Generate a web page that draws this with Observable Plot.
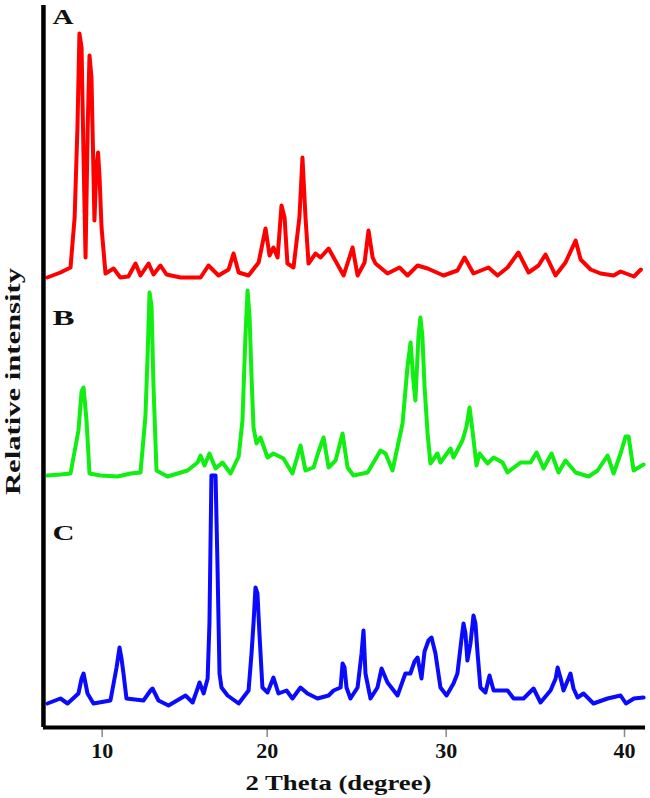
<!DOCTYPE html>
<html>
<head>
<meta charset="utf-8">
<script src="https://cdn.jsdelivr.net/npm/d3@7"></script>
<script src="https://cdn.jsdelivr.net/npm/@observablehq/plot@0.6"></script>
<style>
  html, body { margin: 0; padding: 0; background: #fff; }
  #chart svg { display: block; }
</style>
</head>
<body>
<div id="chart"></div>
<script>
// ---- data (2θ in degrees, intensity in arbitrary units above each pattern's baseline) ----
const seriesNames = ["A", "B", "C"];
const seriesColors = ["#ff0000", "#11ee11", "#0a0aff"];
const xTicks = [10, 20, 30, 40];

const aTheta = [6.67,7.47,8.08,8.33,8.50,8.62,8.75,8.87,8.99,9.12,9.23,9.35,9.53,9.65,9.75,9.84,9.96,10.20,10.69,11.10,11.59,12.02,12.32,12.81,13.11,13.53,13.90,14.75,15.96,16.44,17.05,17.66,17.96,18.27,18.87,19.48,19.90,20.13,20.35,20.58,20.80,20.97,21.13,21.47,21.80,21.97,22.14,22.31,22.70,22.98,23.43,24.27,24.77,25.05,25.44,25.66,25.89,26.05,26.72,27.39,27.84,28.40,28.96,29.85,30.63,31.03,31.53,32.37,32.88,33.44,34.05,34.62,35.18,35.57,36.13,36.69,37.26,37.54,38.10,38.66,39.39,39.78,40.08,40.53,40.92];
const aInt   = [0,5,10,60,150,244,230,120,20,150,222,200,57,110,125,100,50,4,9,0,1,14,2,14,3,12,3,0,0,12,2,8,24,5,2,15,49,22,30,20,72,60,14,10,60,120,60,14,24,20,29,2,30,2,15,47,20,14,4,10,2,12,9,2,7,20,4,10,2,10,25,5,12,23,2,15,37,18,8,4,2,6,4,1,8];

const bTheta = [6.68,7.47,8.08,8.56,8.75,8.87,9.05,9.23,9.90,10.93,11.72,12.32,12.62,12.75,12.87,12.99,13.11,13.29,13.96,15.17,15.78,15.96,16.20,16.50,16.87,17.29,17.78,18.27,18.50,18.68,18.81,18.93,19.05,19.17,19.35,19.59,20.02,20.35,20.91,21.41,21.86,22.14,22.59,22.87,23.15,23.43,23.82,24.21,24.49,24.82,25.61,26.33,26.61,27.00,27.56,27.84,28.01,28.17,28.28,28.45,28.56,28.67,28.79,28.96,29.12,29.51,29.68,30.24,30.41,30.91,31.14,31.31,31.48,31.70,31.87,32.32,32.66,33.16,33.44,34.17,34.73,35.07,35.46,35.91,36.30,36.69,37.26,37.99,38.49,39.05,39.39,39.78,40.06,40.23,40.51,41.07];
const bInt   = [1,2,3,46,85,89,56,3,1,0,3,4,60,120,184,170,90,6,0,6,14,21,11,23,8,14,3,20,56,140,186,160,100,49,33,39,19,23,18,3,31,6,9,25,39,9,16,43,9,1,4,26,23,6,53,110,134,95,76,140,159,140,90,43,13,23,14,28,19,36,50,69,45,11,23,13,19,14,4,14,14,24,8,23,4,16,4,0,6,21,3,23,40,40,6,12];

const cTheta = [6.68,7.47,7.90,8.56,8.75,8.87,8.99,9.11,9.47,10.50,10.87,11.05,11.17,11.29,11.47,12.50,12.93,13.05,13.41,14.02,15.05,15.48,15.78,15.90,16.15,16.39,16.50,16.62,16.74,16.87,16.99,17.11,17.23,17.60,18.27,18.87,19.05,19.17,19.29,19.41,19.53,19.71,20.02,20.35,20.63,21.08,21.41,21.86,22.25,22.81,23.43,23.71,24.10,24.21,24.32,24.43,24.65,25.05,25.27,25.38,25.49,25.77,26.16,26.39,26.72,27.28,27.72,28.00,28.23,28.40,28.62,28.79,29.01,29.18,29.40,29.68,30.02,30.41,30.63,30.86,30.97,31.08,31.19,31.36,31.53,31.64,31.76,31.92,32.20,32.43,32.66,33.44,33.78,34.34,34.90,35.29,35.85,36.14,36.25,36.42,36.58,36.86,36.97,37.14,37.37,37.70,38.26,39.05,39.78,40.08,40.53,41.07];
const cInt   = [0,5,0,10,25,30,20,10,0,3,36,56,45,30,5,3,13,15,3,-2,8,1,15,21,10,25,80,228,228,228,136,30,16,8,0,13,50,80,116,110,70,16,11,26,10,13,5,16,10,5,8,13,16,40,36,16,5,16,50,73,30,5,16,35,21,8,30,30,42,46,25,52,63,66,50,16,8,20,30,65,80,70,43,60,88,80,50,16,11,28,13,13,5,5,15,1,13,25,36,25,13,25,30,15,6,10,0,5,8,0,5,6];

// ---- layout (vertical stacking offsets, not data) ----
const offsets = [450, 251, 24];

const thetas = [aTheta, bTheta, cTheta];
const ints = [aInt, bInt, cInt];
const rows = [];
seriesNames.forEach((name, k) => {
  thetas[k].forEach((t, i) => rows.push({series: name, theta: t, y: ints[k][i] + offsets[k]}));
});

const serif = "'Liberation Serif', 'Times New Roman', serif";

const chart = Plot.plot({
  width: 650,
  height: 798,
  marginLeft: 43,
  marginRight: 5,
  marginTop: 5,
  marginBottom: 71,
  style: {fontFamily: serif, background: "#fff", color: "#111"},
  x: {type: "linear", domain: [10, 20, 30, 40], range: [101.7, 266.7, 445.7, 624], axis: null},
  y: {type: "linear", domain: [0, 722], range: [727, 5], axis: null},
  marks: [
    Plot.axisX({ticks: xTicks, tickSize: 10, tickPadding: 5, stroke: "#888", strokeWidth: 1.5,
                fill: "#111", fontSize: 22, fontWeight: "bold", label: null, tickFormat: d => String(d)}),
    ...seriesNames.map((name, k) =>
      Plot.line(rows.filter(r => r.series === name), {x: "theta", y: "y", stroke: seriesColors[k], strokeWidth: 4, strokeLinejoin: "round", strokeLinecap: "round"})
    ),
    // axes lines
    Plot.ruleY([0], {x1: 6.44, x2: 41.18, stroke: "#000", strokeWidth: 4}),
    Plot.ruleX([6.44], {y1: 0, y2: 722, stroke: "#000", strokeWidth: 4.5}),
    // pattern labels
    Plot.text(seriesNames, {x: 6.99, y: (d, i) => offsets[i] + [254, 152, 164][i], text: d => d,
      textAnchor: "start", lineAnchor: "bottom", fontSize: 20, fontWeight: "bold", fill: "#111"}),
    // axis titles
    Plot.text(["2 Theta (degree)"], {x: 23.98, y: -62, text: d => d, textAnchor: "middle", lineAnchor: "bottom",
      fontSize: 21, fontWeight: "bold", fill: "#111"}),
    Plot.text(["Relative intensity"], {x: 4.62, y: 346, text: d => d, rotate: -90, textAnchor: "middle", lineAnchor: "middle",
      fontSize: 20, fontWeight: "bold", fill: "#111"})
  ]
});

document.getElementById("chart").appendChild(chart);

// stretch titles to the widths seen in the reference
const lengths = {"2 Theta (degree)": 186, "Relative intensity": 227, "A": 21, "B": 22, "C": 22};
d3.select(chart).selectAll("text").each(function() {
  const t = this.textContent;
  if (lengths[t] && this.children.length === 0) {
    this.setAttribute("textLength", lengths[t]);
    this.setAttribute("lengthAdjust", "spacingAndGlyphs");
  }
});
</script>
</body>
</html>
